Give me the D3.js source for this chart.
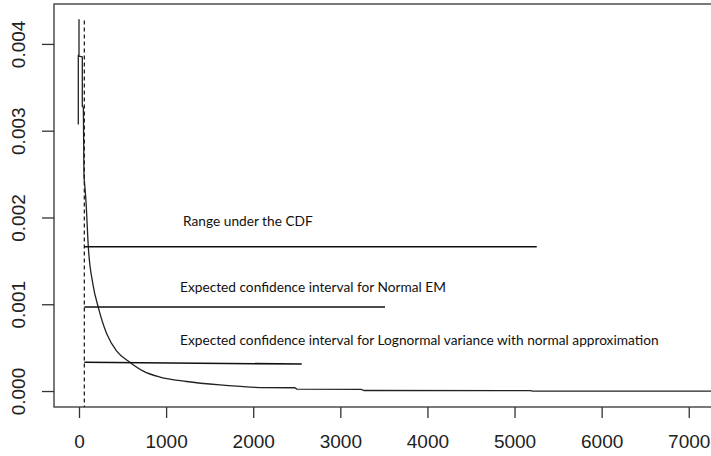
<!DOCTYPE html>
<html>
<head>
<meta charset="utf-8">
<script src="https://cdn.jsdelivr.net/npm/d3@7"></script>
<style>
  body { margin: 0; background: #fff; }
  svg { display: block; }
  .tick text { font-family: "Liberation Sans", Arial, sans-serif; fill: #222; }
  .note { font-family: Lato, "Open Sans", sans-serif; fill: #111; }
</style>
</head>
<body>
<svg id="chart" width="711" height="456"></svg>
<script>
// density curve: jagged head, smooth body, stepped tail
const headX = [-8, -8, 0, 0, 0, 38, 38, 50, 57];
const headY = [0.00307, 0.00387, 0.00387, 0.00428, 0.00386, 0.00385, 0.00328, 0.00327, 0.00247];
const bodyX = [57, 80, 107, 160, 220, 318, 433, 586, 738, 930, 1236, 1619, 1963];
const bodyY = [0.00247, 0.00219, 0.00166, 0.00123, 0.00097, 0.00066, 0.00046, 0.00033, 0.00023, 0.00016, 0.00011, 0.00007, 0.000045];
const tailX = [1963, 2080, 2480, 2500, 3240, 3270, 5180, 5210, 7462];
const tailY = [0.000045, 0.00004, 0.000038, 0.000022, 0.00002, 0.000006, 0.000004, 0, 0];

// vertical dashed marker
const markX = 61;
const markTop = 0.00427;

// annotation segments
const segX0 = [61, 61, 61];
const segX1 = [5255, 3513, 2557];
const segY0 = [0.001663, 0.000968, 0.000331];
const segY1 = [0.001663, 0.000968, 0.000311];

const noteText = [
  "Range under the CDF",
  "Expected confidence interval for Normal EM",
  "Expected confidence interval for Lognormal variance with normal approximation"
];
const noteX = [1195, 1160, 1160];
const noteY = [0.00190, 0.001145, 0.00053];

const xTicks = [0, 1000, 2000, 3000, 4000, 5000, 6000, 7000];
const yTicks = [0, 0.001, 0.002, 0.003, 0.004];

const svg = d3.select("#chart");
const mLeft = 54, mRight = 729, mTop = 4, mBottom = 407;

const x = d3.scaleLinear().domain([-287, 7462]).range([mLeft, mRight]);
const y = d3.scaleLinear().domain([-0.000184, 0.00446]).range([mBottom, mTop]);

// frame
svg.append("rect")
  .attr("x", mLeft).attr("y", mTop)
  .attr("width", mRight - mLeft).attr("height", mBottom - mTop)
  .attr("fill", "none").attr("stroke", "#333").attr("stroke-width", 1.3);

// axes
const xAxis = svg.append("g")
  .attr("transform", `translate(0,${mBottom})`)
  .call(d3.axisBottom(x).tickValues(xTicks).tickFormat(d3.format("d")).tickSize(11));
const yAxis = svg.append("g")
  .attr("transform", `translate(${mLeft},0)`)
  .call(d3.axisLeft(y).tickValues(yTicks).tickFormat(d3.format(".3f")).tickSize(12));

for (const g of [xAxis, yAxis]) {
  g.select(".domain").remove();
  g.selectAll(".tick line").attr("stroke", "#333").attr("stroke-width", 1.3);
  g.selectAll(".tick text").attr("font-size", 19);
}
xAxis.selectAll(".tick text").attr("dy", null).attr("y", 41);
yAxis.selectAll(".tick text")
  .attr("x", null).attr("dy", null)
  .attr("text-anchor", "middle")
  .attr("transform", "translate(-29,0) rotate(-90)");

svg.append("clipPath").attr("id", "plot")
  .append("rect").attr("x", mLeft).attr("y", mTop)
  .attr("width", mRight - mLeft).attr("height", mBottom - mTop);

const plot = svg.append("g").attr("clip-path", "url(#plot)");

plot.append("line")
  .attr("x1", x(markX)).attr("x2", x(markX))
  .attr("y1", y(markTop)).attr("y2", mBottom)
  .attr("stroke", "#111").attr("stroke-width", 1.2)
  .attr("stroke-dasharray", "4,3");

const straight = d3.line().x((d) => x(d[0])).y((d) => y(d[1]));
const smooth = d3.line().x((d) => x(d[0])).y((d) => y(d[1])).curve(d3.curveMonotoneX);

plot.selectAll("path.curve")
  .data([
    { pts: d3.zip(headX, headY), gen: straight },
    { pts: d3.zip(bodyX, bodyY), gen: smooth },
    { pts: d3.zip(tailX, tailY), gen: straight }
  ])
  .join("path").attr("class", "curve")
  .attr("d", (d) => d.gen(d.pts))
  .attr("fill", "none").attr("stroke", "#222").attr("stroke-width", 1.3)
  .attr("stroke-linejoin", "round");

plot.selectAll("line.seg")
  .data(d3.range(segX0.length))
  .join("line").attr("class", "seg")
  .attr("x1", (i) => x(segX0[i])).attr("x2", (i) => x(segX1[i]))
  .attr("y1", (i) => y(segY0[i])).attr("y2", (i) => y(segY1[i]))
  .attr("stroke", "#111").attr("stroke-width", 1.6);

svg.selectAll("text.note")
  .data(noteText)
  .join("text").attr("class", "note")
  .attr("x", (d, i) => x(noteX[i]))
  .attr("y", (d, i) => y(noteY[i]))
  .attr("font-size", 13.7)
  .text((d) => d);
</script>
</body>
</html>
